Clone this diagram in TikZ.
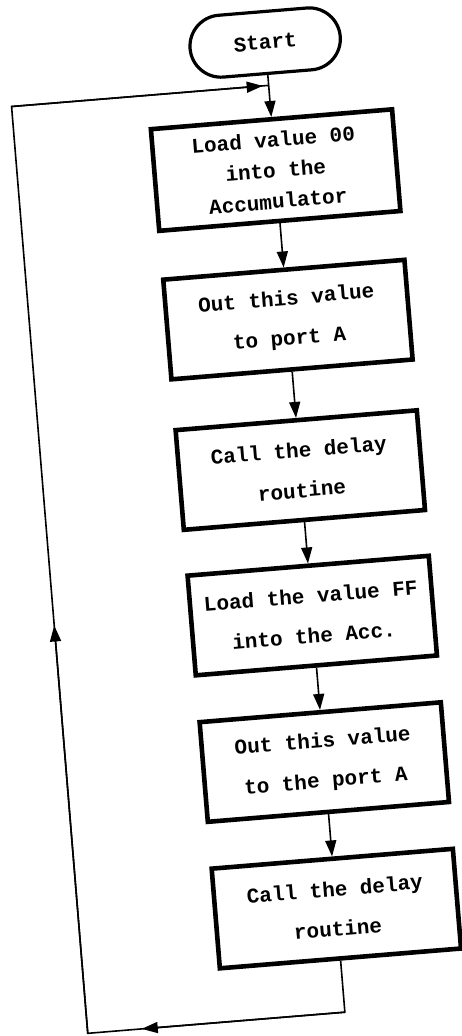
\documentclass[tikz,border=0pt]{standalone}
\usepackage{fontspec}
\setmainfont{Liberation Mono}
\usetikzlibrary{arrows.meta,shapes.misc}

\begin{document}
\begin{tikzpicture}[x=0.5pt,y=-0.5pt,
  term/.style={rounded rectangle,draw,line width=1.6pt,minimum width=82pt,
    minimum height=31pt,font=\fontsize{10.5}{12}\selectfont\bfseries},
  stepbox/.style={rectangle,draw,line width=2.3pt,minimum width=121pt,
    minimum height=50pt,align=center,font=\fontsize{10.5}{20}\selectfont\bfseries},
  flow/.style={line width=0.8pt,-{Triangle[length=8pt,width=5.5pt]}},
  wire/.style={line width=0.8pt}]
\useasboundingbox (0,0) rectangle (461,1036);
\begin{scope}[rotate around={4.7:(230,518)},transform shape] % the page is scanned askew
\node[term] (start) at (304,47) {Start};
\node[stepbox,font=\fontsize{10.5}{15.5}\selectfont\bfseries,minimum height=51pt] (load0) at (304,175)
  {Load value 00\\into the\\Accumulator};
\node[stepbox] (out0) at (304,325) {Out this value\\to port A};
\node[stepbox] (delay0) at (304,476) {Call the delay\\routine};
\node[stepbox] (loadff) at (304,622) {Load the value FF\\into the Acc.};
\node[stepbox] (outff) at (304,769) {Out this value\\to the port A};
\node[stepbox] (delayff) at (304,916) {Call the delay\\routine};

\foreach \a/\b in {start/load0,load0/out0,out0/delay0,delay0/loadff,loadff/outff,outff/delayff}
\draw[flow] (\a) -- (\b);

% loop back to the top
\coordinate (d1) at (304,1020);
\coordinate (d2) at (46,1020);
\coordinate (d3) at (46,90);
\coordinate (join) at (304,90);
\path (d1) -- (d2) coordinate[pos=0.79] (m1);
\path (d2) -- (d3) coordinate[pos=0.44] (m2);
\draw[wire] (delayff) -- (d1) -- (d2) -- (d3) -- (join);
\draw[flow] (d1) -- (m1);
\draw[flow] (d2) -- (m2);
\draw[flow,shorten >=3pt] (d3) -- (join);
\end{scope}
\end{tikzpicture}
\end{document}
